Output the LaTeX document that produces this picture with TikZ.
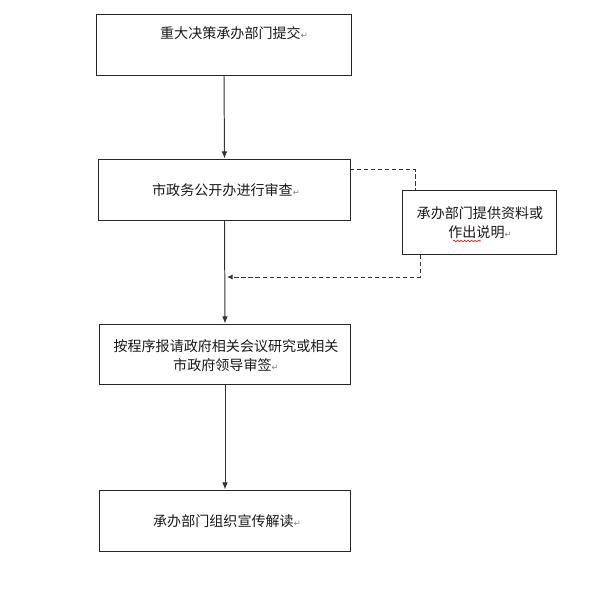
\documentclass[tikz,border=0pt]{standalone}
\usepackage{fontspec}
\newfontfamily\cjk{Noto Sans CJK SC}
\newfontfamily\dv{DejaVu Sans}
\usetikzlibrary{arrows.meta,decorations.pathmorphing}
\newcommand{\pmark}{{\dv\fontsize{6pt}{6pt}\selectfont\color{gray}↵}}
\begin{document}
\begin{tikzpicture}[x=0.025cm,y=-0.025cm,
  box/.style={draw=black!85,line width=0.7pt,inner sep=0pt},
  txt/.style={font=\cjk\fontsize{10pt}{13.2pt}\selectfont,align=center,inner sep=0pt,text=black!90},
  flow/.style={draw=black!80,line width=0.7pt,-{Latex[length=5pt,width=4pt]}},
  dflow/.style={draw=black!80,line width=0.6pt,dash pattern=on 3pt off 2pt}]
\useasboundingbox (0,0) rectangle (600,593);
% boxes
\node[box,minimum width=6.35cm,minimum height=1.525cm] (b1) at (224,44.5) {};
\node[txt] (t1) at (234,33) {重大决策承办部门提交\pmark};

\node[box,minimum width=6.275cm,minimum height=1.525cm] (b2) at (224.5,189.5) {};
\node[txt] (t2) at (226,190) {市政务公开办进行审查\pmark};

\node[box,minimum width=3.825cm,minimum height=1.6cm] (b3) at (479.5,222) {};
\node[txt] (t3) at (480,222.5) {承办部门提供资料或\\作出说明\pmark};
\draw[red!80!black,line width=0.4pt,decorate,decoration={snake,amplitude=0.6pt,segment length=2.5pt}] (453,241) -- (481,241);

\node[box,minimum width=6.25cm,minimum height=1.5cm] (b4) at (225,354) {};
\node[txt] (t4) at (226,355.5) {按程序报请政府相关会议研究或相关\\市政府领导审签\pmark};

\node[box,minimum width=6.25cm,minimum height=1.525cm] (b5) at (225,520.5) {};
\node[txt] (t5) at (227,521) {承办部门组织宣传解读\pmark};

% connectors
\draw[flow] (b1.south) -- (b2.north);
\draw[flow] (b2.south) -- (b4.north);
\draw[flow] (b4.south) -- (b5.north);
\coordinate (d1) at (350,169);
\coordinate (d2) at (415,169);
\coordinate (d3) at (420,277);
\coordinate (d4) at (227,277);
\draw[dflow] (d1) -- (d2) -- (d2 |- b3.north);
\draw[dflow,-{Latex[length=4pt,width=3.5pt]}] (d3 |- b3.south) -- (d3) -- (d4);
\end{tikzpicture}
\end{document}
